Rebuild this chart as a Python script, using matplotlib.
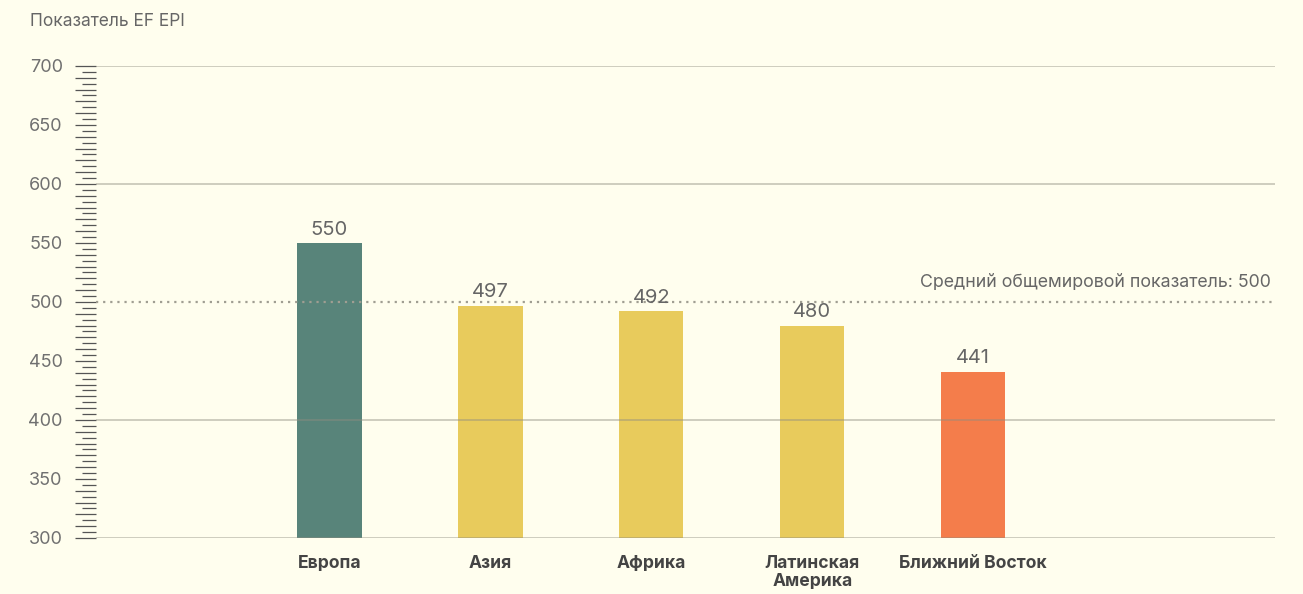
import matplotlib
matplotlib.use("Agg")
import matplotlib.pyplot as plt
from matplotlib.ticker import MultipleLocator, FuncFormatter

categories = ["Европа", "Азия", "Африка", "Латинская\nАмерика", "Ближний Восток"]
values = [550, 497, 492, 480, 441]
colors = ["#58847a", "#e8cb5c", "#e8cb5c", "#e8cb5c", "#f47d4b"]
world_avg = 500
avg_label = "Средний общемировой показатель: 500"
y_title = "Показатель EF EPI"

plt.rcParams['font.family'] = ['Inter', 'DejaVu Sans']
bg = "#fffeee"
fig = plt.figure(figsize=(13.03, 5.94), dpi=100, facecolor=bg)
ax = fig.add_axes([0.0737, 0.0943, 0.9048, 0.7946])
ax.set_facecolor(bg)

x = list(range(len(categories)))
ax.bar(x, values, width=0.4, color=colors, zorder=2)
ax.set_xlim(-1.45, 5.875)
ax.set_ylim(300, 700)

for xi, v in zip(x, values):
    ax.text(xi, v + 3.5, str(v), ha="center", va="bottom", fontsize=14.5, color="#666666", zorder=4)

for g in [300, 400, 600, 700]:
    ax.axhline(g, color="#8f8d80", lw=1.1, alpha=0.55, zorder=3)
ax.axhline(world_avg, color="#a09e92", lw=1.6, ls=(0, (1, 2.2)), zorder=3)
ax.text(0.9965, world_avg + 9, avg_label, transform=ax.get_yaxis_transform(),
        ha="right", va="bottom", fontsize=12.8, color="#666666", zorder=4)

for s in ax.spines.values():
    s.set_visible(False)

ax.yaxis.set_major_locator(MultipleLocator(10))
ax.yaxis.set_minor_locator(MultipleLocator(5))
ax.yaxis.set_major_formatter(FuncFormatter(lambda v, p: f"{int(v)}" if round(v) % 50 == 0 else ""))
ax.tick_params(axis="y", which="major", length=15, width=0.9, color="#555555",
               labelsize=13, labelcolor="#707070", pad=9)
ax.tick_params(axis="y", which="minor", length=10, width=0.9, color="#555555")

ax.set_xticks(x)
ax.set_xticklabels(categories, fontsize=12.6, fontweight="bold", color="#444444", linespacing=1.12)
ax.tick_params(axis="x", length=0, pad=12)
for lbl in ax.get_xticklabels():
    lbl.set_va("top")

fig.text(30 / 1303, 1 - 22 / 594, y_title, ha="left", va="center", fontsize=12.5, color="#666666")

fig.savefig("out.png", dpi=100, facecolor=bg)
